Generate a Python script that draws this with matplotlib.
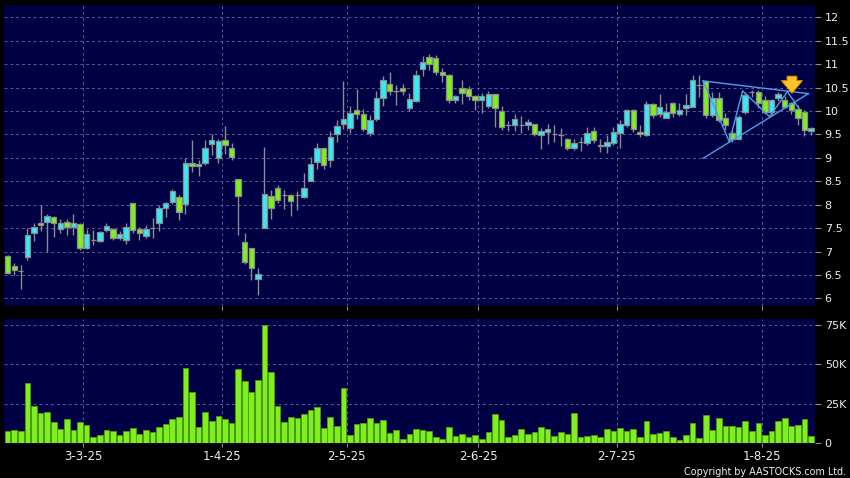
import numpy as np
import pandas as pd
import matplotlib.pyplot as plt

# HK market holidays inside the range (trading days only on the x axis)
Holidays = ["2025-04-04", "2025-04-18", "2025-04-21", "2025-05-01", "2025-05-05", "2025-07-01"]

Opens = [6.90, 6.69, 6.58, 6.89, 7.39, 7.60, 7.64, 7.74, 7.49, 7.63,
         7.52, 7.58, 7.07, 7.25, 7.22, 7.47, 7.49, 7.30, 7.25, 8.03,
         7.48, 7.34, 7.51, 7.60, 7.92, 8.06, 8.16, 8.01, 8.90, 8.83,
         8.88, 9.29, 8.99, 9.39, 9.20, 8.54, 7.20, 7.07, 6.41, 7.51,
         8.18, 8.36, 8.21, 8.20, 8.21, 8.17, 8.51, 8.91, 9.21, 8.96,
         9.51, 9.72, 9.64, 10.01, 9.94, 9.53, 9.82, 10.28, 10.57, 10.43,
         10.49, 10.06, 10.21, 10.89, 11.15, 11.13, 10.84, 10.77, 10.24, 10.49,
         10.47, 10.31, 10.24, 10.10, 10.36, 9.99, 9.69, 9.71, 9.71, 9.71,
         9.72, 9.48, 9.56, 9.50, 9.49, 9.41, 9.20, 9.34, 9.32, 9.58,
         9.28, 9.25, 9.32, 9.54, 9.70, 10.02, 9.55, 9.48, 10.14, 9.93,
         9.86, 10.16, 9.93, 10.07, 10.09, 10.55, 10.64, 9.91, 10.27, 9.86,
         9.54, 9.41, 9.98, 10.40, 10.41, 10.23, 9.98, 10.27, 10.23, 10.16,
         10.05, 9.98, 9.57]
Highs = [6.93, 6.75, 6.71, 7.50, 7.60, 8.00, 7.80, 7.76, 7.70, 7.69,
         7.80, 7.60, 7.48, 7.46, 7.43, 7.60, 7.50, 7.45, 7.60, 8.03,
         7.53, 7.57, 7.71, 7.99, 8.06, 8.33, 8.21, 8.99, 9.39, 8.95,
         9.39, 9.51, 9.40, 9.68, 9.32, 8.54, 7.39, 7.07, 6.64, 9.24,
         8.31, 8.43, 8.31, 8.22, 8.29, 8.68, 9.02, 9.32, 9.22, 9.57,
         9.80, 10.63, 10.10, 10.47, 10.04, 9.92, 10.43, 10.75, 10.83, 10.56,
         10.58, 10.38, 10.88, 11.18, 11.22, 11.20, 10.91, 10.78, 10.35, 10.65,
         10.54, 10.35, 10.38, 10.42, 10.37, 10.10, 9.78, 9.94, 9.90, 9.83,
         9.73, 9.64, 9.72, 9.70, 9.63, 9.42, 9.41, 9.44, 9.66, 9.66,
         9.41, 9.49, 9.66, 9.80, 10.05, 10.05, 9.70, 10.22, 10.16, 10.36,
         10.16, 10.19, 10.16, 10.37, 10.76, 10.76, 10.66, 10.41, 10.41, 9.95,
         9.59, 9.92, 10.41, 10.44, 10.44, 10.32, 10.26, 10.41, 10.32, 10.20,
         10.12, 10.02, 9.66]
Lows = [6.53, 6.50, 6.21, 6.83, 7.23, 7.45, 7.00, 7.32, 7.39, 7.35,
        7.35, 7.03, 7.05, 7.14, 7.20, 7.42, 7.25, 7.25, 7.16, 7.39,
        7.25, 7.28, 7.28, 7.44, 7.74, 8.02, 7.67, 7.81, 8.70, 8.62,
        8.85, 9.06, 8.90, 9.09, 8.95, 7.35, 6.73, 6.39, 6.07, 7.50,
        7.69, 8.03, 7.90, 7.76, 7.89, 8.15, 8.50, 8.77, 8.77, 8.81,
        9.34, 9.62, 9.53, 9.82, 9.57, 9.46, 9.78, 10.10, 10.35, 10.13,
        10.35, 9.99, 10.20, 10.75, 10.88, 10.77, 10.61, 10.18, 10.16, 10.15,
        10.24, 10.01, 9.96, 10.06, 9.65, 9.59, 9.57, 9.57, 9.53, 9.60,
        9.46, 9.18, 9.29, 9.34, 9.25, 9.17, 9.17, 9.15, 9.27, 9.32,
        9.13, 9.11, 9.27, 9.20, 9.66, 9.56, 9.44, 9.47, 9.86, 9.88,
        9.84, 9.87, 9.89, 9.91, 10.08, 10.30, 9.84, 9.88, 9.77, 9.60,
        9.34, 9.40, 9.94, 10.30, 10.07, 9.94, 9.90, 10.22, 10.06, 9.94,
        9.70, 9.46, 9.49]
Closes = [6.55, 6.60, 6.58, 7.36, 7.52, 7.57, 7.76, 7.62, 7.60, 7.52,
          7.60, 7.07, 7.37, 7.25, 7.41, 7.54, 7.28, 7.37, 7.53, 7.46,
          7.40, 7.49, 7.51, 7.92, 8.03, 8.29, 7.84, 8.90, 8.82, 8.86,
          9.22, 9.39, 9.36, 9.27, 9.02, 8.19, 6.78, 6.64, 6.53, 8.22,
          7.94, 8.11, 8.21, 8.08, 8.21, 8.36, 8.86, 9.22, 8.85, 9.45,
          9.67, 9.82, 9.96, 9.94, 9.62, 9.81, 10.28, 10.67, 10.42, 10.43,
          10.42, 10.26, 10.76, 11.04, 11.00, 10.84, 10.76, 10.24, 10.31, 10.38,
          10.31, 10.23, 10.31, 10.36, 10.06, 9.66, 9.69, 9.82, 9.71, 9.77,
          9.50, 9.58, 9.61, 9.50, 9.49, 9.20, 9.32, 9.34, 9.52, 9.37,
          9.25, 9.33, 9.56, 9.73, 10.02, 9.61, 9.51, 10.15, 9.91, 10.09,
          9.97, 9.95, 10.02, 10.12, 10.67, 10.55, 9.91, 10.27, 9.80, 9.70,
          9.41, 9.88, 10.34, 10.40, 10.16, 9.98, 10.24, 10.37, 10.09, 10.03,
          9.86, 9.59, 9.63]
# volume in thousands of shares
VolumeK = [7.8, 8.4, 8.0, 37.9, 23.6, 19.4, 19.8, 13.5, 9.3, 15.2,
           8.2, 13.5, 11.4, 4.0, 5.3, 8.2, 7.8, 5.5, 7.6, 9.5,
           5.9, 8.4, 7.0, 10.1, 12.2, 15.6, 16.4, 47.4, 32.4, 10.5,
           19.8, 14.1, 17.3, 15.4, 13.1, 47.2, 39.4, 32.6, 40.0, 75.0,
           45.1, 23.8, 13.5, 16.4, 16.2, 18.5, 21.1, 22.7, 9.9, 16.4,
           11.0, 35.2, 5.3, 12.2, 12.6, 16.0, 12.6, 14.5, 6.5, 8.4,
           2.7, 5.9, 8.8, 8.4, 7.8, 3.8, 2.9, 10.3, 4.6, 5.9,
           4.0, 5.5, 2.5, 7.2, 18.5, 14.7, 3.8, 5.3, 8.8, 5.9,
           7.0, 10.1, 9.3, 4.6, 7.2, 5.9, 19.0, 4.2, 4.6, 5.3,
           3.8, 9.1, 7.6, 9.7, 8.0, 9.1, 3.8, 13.9, 5.7, 6.5,
           7.6, 4.0, 2.3, 5.1, 13.1, 3.6, 17.9, 8.4, 16.0, 11.2,
           11.0, 10.5, 14.3, 8.0, 12.6, 5.3, 7.6, 14.1, 16.0, 11.2,
           11.6, 15.2, 4.6]

# triangle drawn on the chart (candle index, price)
UpperLineX = [105.6, 121.6]
UpperLineY = [10.64, 10.37]
LowerLineX = [105.6, 121.6]
LowerLineY = [8.99, 10.37]
ZigzagX = [105.6, 109.6, 111.6, 115.7, 118.4, 120.2]
ZigzagY = [10.64, 9.34, 10.43, 9.88, 10.41, 10.05]

CYAN = "#35e9f6"
GREEN = "#7ff01e"
GREY = "#8c8c8c"
NAVY = "#000044"
GRIDC = "#5a5a96"
TEXTC = "#eeeeee"

dates = [d for d in pd.bdate_range("2025-02-13", "2025-08-12") if d.strftime("%Y-%m-%d") not in Holidays]
x = np.arange(len(dates))

# first trading day of each month gets a label
tickPos = []
tickLabels = []
for i in range(1, len(dates)):
    if dates[i].month != dates[i - 1].month:
        tickPos.append(i - 0.5)
        tickLabels.append(f"{dates[i].day}-{dates[i].month}-{dates[i]:%y}")

fig = plt.figure(figsize=(8.5, 4.78), dpi=100, facecolor="black")
ax = fig.add_axes([4 / 850, 1 - 306 / 478, 811 / 850, 301 / 478], facecolor=NAVY)
axv = fig.add_axes([4 / 850, 1 - 443.3 / 478, 811 / 850, 124.3 / 478], facecolor=NAVY)

o = np.array(Opens)
c = np.array(Closes)
colors = [CYAN if cc > oo else GREEN if cc < oo else GREY for oo, cc in zip(o, c)]

ax.vlines(x, Lows, Highs, color=GREY, lw=1, zorder=2)
ax.bar(x, np.abs(c - o), bottom=np.minimum(o, c), width=0.82, color=colors,
       edgecolor=GREY, linewidth=0.9, zorder=3)

# triangle pattern + arrow
ax.plot(UpperLineX, UpperLineY, color="#4b9fe6", lw=1, zorder=4)
ax.plot(LowerLineX, LowerLineY, color="#4b9fe6", lw=1, zorder=4)
ax.plot(ZigzagX, ZigzagY, color="#4b9fe6", lw=1, zorder=4)
ax.annotate("", xy=(119.1, 10.32), xytext=(119.1, 10.80),
            arrowprops=dict(arrowstyle="simple,head_width=1.5,head_length=0.9,tail_width=0.7",
                            fc="#ffc42a", ec="#d98c00", lw=0.8), zorder=5)

ax.set_xlim(-0.55, 122.6)
ax.set_ylim(5.84, 12.26)
ax.set_yticks(np.arange(6, 12.01, 0.5))
ax.set_yticklabels([f"{v:g}" for v in np.arange(6, 12.01, 0.5)])
ax.set_xticks(tickPos)
ax.tick_params(axis="x", length=0, labelbottom=False)

axv.bar(x, np.array(VolumeK) * 1000, width=0.86, color=GREEN, edgecolor="#4e9e12", linewidth=0.6, zorder=3)
axv.set_xlim(-0.55, 122.6)
axv.set_ylim(0, 78600)
axv.set_yticks([0, 25000, 50000, 75000])
axv.set_yticklabels(["0", "25K", "50K", "75K"])
axv.set_xticks(tickPos)
axv.set_xticklabels(tickLabels)

for a in (ax, axv):
    a.yaxis.tick_right()
    a.tick_params(axis="y", direction="out", length=4, width=0.8, color=GREY, pad=3,
                  labelcolor=TEXTC, labelsize=8)
    a.tick_params(axis="x", direction="out", length=3, width=0.8, color=GREY, pad=2,
                  labelcolor=TEXTC, labelsize=8.5)
    a.grid(True, color=GRIDC, linestyle=(0, (3, 3)), lw=0.7, zorder=1)
    a.set_axisbelow(True)
    for s in a.spines.values():
        s.set_visible(False)

fig.text(846 / 850, 1 - 472 / 478, "Copyright by AASTOCKS.com Ltd.", ha="right", va="center",
         color=TEXTC, fontsize=6.9)

fig.savefig("out.png", dpi=100, facecolor="black")
